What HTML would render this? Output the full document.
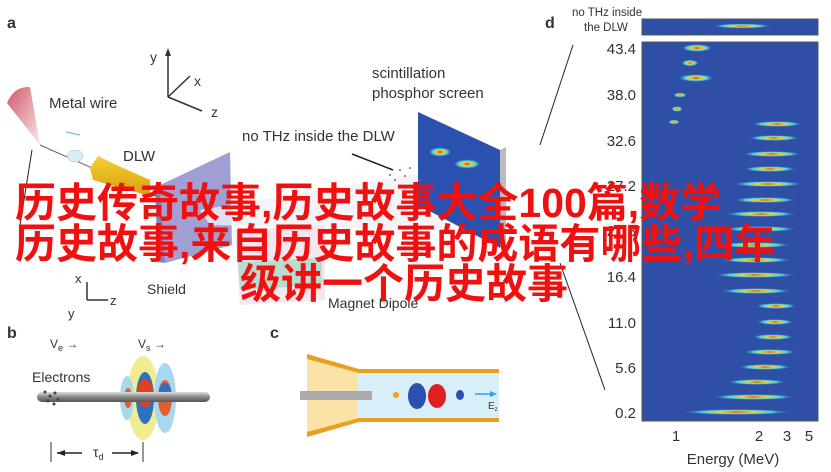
<!DOCTYPE html>
<html><head><meta charset="utf-8"><style>
html,body{margin:0;padding:0;background:#fff;width:831px;height:472px;overflow:hidden}
svg{display:block}
.t{font-family:"Liberation Sans",sans-serif;fill:#333}
.cn{font-family:"Liberation Sans","Noto Sans CJK SC",sans-serif;fill:#f01010;font-size:41px;font-weight:bold}
</style></head><body>
<svg width="831" height="472" viewBox="0 0 831 472" xmlns="http://www.w3.org/2000/svg">
<defs>
<radialGradient id="s" cx="0.5" cy="0.5" r="0.5">
<stop offset="0" stop-color="#d42020"/><stop offset="0.3" stop-color="#f0d030"/>
<stop offset="0.65" stop-color="#50d0e0"/><stop offset="1" stop-color="#3050a8" stop-opacity="0"/>
</radialGradient>
<linearGradient id="cone" x1="0" y1="0" x2="1" y2="1"><stop offset="0" stop-color="#d05868"/><stop offset="1" stop-color="#fbe8ea"/></linearGradient>
<linearGradient id="rod" x1="0" y1="0" x2="0" y2="1"><stop offset="0" stop-color="#ddd"/><stop offset="0.5" stop-color="#888"/><stop offset="1" stop-color="#555"/></linearGradient>
<linearGradient id="horn" x1="0" y1="0" x2="0" y2="1"><stop offset="0" stop-color="#f5d030"/><stop offset="1" stop-color="#d8a010"/></linearGradient>
</defs>
<!-- panel a -->
<text x="7" y="28" class="t" font-size="16" font-weight="bold" fill="#222">a</text>
<path d="M7,103 Q14,86 30,87 L40,145 Z" fill="url(#cone)"/>
<text x="49" y="108" class="t" font-size="15">Metal wire</text>
<line x1="40" y1="145" x2="160" y2="198" stroke="#666" stroke-width="1"/>
<line x1="66" y1="132" x2="80" y2="135" stroke="#8cc8e8" stroke-width="1.5"/>
<ellipse cx="75" cy="156" rx="8" ry="6" fill="#dcecf4" stroke="#9bc" stroke-width="0.5"/>
<path d="M90,168 L98,156 L112,163 L150,180 L150,196 L110,185 L93,180 Z" fill="url(#horn)"/>
<text x="123" y="161" class="t" font-size="15">DLW</text>
<line x1="168" y1="97" x2="168" y2="52" stroke="#333" stroke-width="1.5"/>
<path d="M165,56 L168,48 L171,56Z" fill="#333"/>
<line x1="168" y1="97" x2="190" y2="76" stroke="#333" stroke-width="1.5"/>
<line x1="168" y1="97" x2="202" y2="111" stroke="#333" stroke-width="1.5"/>
<text x="150" y="62" class="t" font-size="14">y</text>
<text x="194" y="86" class="t" font-size="14">x</text>
<text x="211" y="117" class="t" font-size="14">z</text>
<line x1="32" y1="150" x2="20" y2="225" stroke="#222" stroke-width="1"/>
<path d="M160,185 L230,152 L232,245 L165,263 Z" fill="#a0a0d4"/>
<path d="M155,186 L160,185 L165,263 L158,262 Z" fill="#8080bc"/>
<text x="147" y="294" class="t" font-size="14">Shield</text>
<line x1="87" y1="300" x2="87" y2="282" stroke="#333" stroke-width="1.5"/>
<line x1="87" y1="300" x2="108" y2="300" stroke="#333" stroke-width="1.5"/>
<text x="75" y="283" class="t" font-size="13">x</text>
<text x="110" y="305" class="t" font-size="13">z</text>
<text x="68" y="318" class="t" font-size="13">y</text>
<path d="M200,210 L440,170 L445,230 L210,225 Z" fill="#eef2f6" opacity="0.8"/>
<path d="M235,230 L325,225 L325,300 L240,305 Z" fill="#f4e8f0"/>
<path d="M238,262 L322,258 L322,285 L240,290 Z" fill="#b8ddd0"/>
<text x="328" y="308" class="t" font-size="14">Magnet Dipole</text>
<text x="372" y="78" class="t" font-size="15">scintillation</text>
<text x="372" y="98" class="t" font-size="15">phosphor screen</text>
<text x="242" y="141" class="t" font-size="15">no THz inside the DLW</text>
<line x1="352" y1="154" x2="393" y2="170" stroke="#222" stroke-width="1.5"/>
<path d="M418,112 L500,150 L500,248 L418,205 Z" fill="#2a50b0"/>
<path d="M500,150 L506,147 L506,244 L500,248 Z" fill="#bbb"/>
<ellipse cx="440" cy="152" rx="12" ry="5" fill="url(#s)"/>
<ellipse cx="467" cy="164" rx="14" ry="5" fill="url(#s)"/>
<g fill="#e04040"><circle cx="390" cy="175" r="1"/><circle cx="400" cy="170" r="1"/><circle cx="410" cy="168" r="1"/><circle cx="395" cy="180" r="1"/><circle cx="405" cy="176" r="1"/><circle cx="420" cy="180" r="1"/><circle cx="415" cy="188" r="1"/><circle cx="430" cy="185" r="1"/></g>
<line x1="573" y1="45" x2="540" y2="145" stroke="#222" stroke-width="1"/>
<line x1="560" y1="263" x2="605" y2="390" stroke="#222" stroke-width="1"/>
<!-- panel b -->
<text x="7" y="338" class="t" font-size="16" font-weight="bold" fill="#222">b</text>
<text x="50" y="348" class="t" font-size="12" fill="#a8d8f0">V<tspan font-size="9" dy="3">e</tspan><tspan dy="-3"> →</tspan></text>
<text x="138" y="348" class="t" font-size="12" fill="#f0b8c0">V<tspan font-size="9" dy="3">s</tspan><tspan dy="-3"> →</tspan></text>
<text x="32" y="382" class="t" font-size="14">Electrons</text>
<ellipse cx="143" cy="398" rx="16" ry="42" fill="#f0ec90"/>
<ellipse cx="165" cy="398" rx="11" ry="35" fill="#a8d8f0"/>
<ellipse cx="127" cy="398" rx="7" ry="22" fill="#a8d8f0"/>
<ellipse cx="145" cy="398" rx="9" ry="26" fill="#3070c0"/>
<ellipse cx="145" cy="393" rx="8" ry="14" fill="#e04020"/>
<ellipse cx="165" cy="398" rx="7" ry="18" fill="#e06030"/>
<ellipse cx="165" cy="392" rx="6" ry="9" fill="#3070c0"/>
<ellipse cx="128" cy="398" rx="4" ry="10" fill="#e06030"/>
<rect x="37" y="392" width="173" height="10" rx="5" fill="url(#rod)"/>
<g fill="#444"><circle cx="45" cy="392" r="1.5"/><circle cx="50" cy="396" r="1.5"/><circle cx="55" cy="393" r="1.5"/><circle cx="48" cy="401" r="1.5"/><circle cx="54" cy="404" r="1.5"/><circle cx="58" cy="399" r="1.5"/></g>
<line x1="51" y1="442" x2="51" y2="462" stroke="#333"/>
<line x1="143" y1="442" x2="143" y2="462" stroke="#333"/>
<line x1="57" y1="453" x2="82" y2="453" stroke="#222" stroke-width="1.5"/><path d="M57,453 L65,450 L65,456Z" fill="#222"/>
<line x1="112" y1="453" x2="138" y2="453" stroke="#222" stroke-width="1.5"/><path d="M139,453 L131,450 L131,456Z" fill="#222"/>
<text x="93" y="457" class="t" font-size="14">τ<tspan font-size="9" dy="3">d</tspan></text>
<!-- panel c -->
<text x="270" y="338" class="t" font-size="16" font-weight="bold" fill="#222">c</text>
<path d="M307,354 L359,370 L359,421 L307,437 Z" fill="#fbe3a8"/>
<path d="M307,354 L359,369 L359,373 L307,359 Z M307,432 L359,418 L359,422 L307,437Z" fill="#e8a020"/>
<rect x="358" y="373" width="141" height="45" fill="#d8eef8"/>
<rect x="358" y="369" width="141" height="4" fill="#e8a020"/>
<rect x="358" y="418" width="141" height="4" fill="#e8a020"/>
<rect x="300" y="391" width="72" height="9" fill="#aaa"/>
<ellipse cx="417" cy="396" rx="9" ry="13" fill="#2a50b0"/>
<ellipse cx="437" cy="396" rx="9" ry="12" fill="#e02020"/>
<ellipse cx="460" cy="395" rx="4" ry="5" fill="#2a50b0"/>
<circle cx="396" cy="395" r="3" fill="#f0a020"/>
<line x1="475" y1="394" x2="494" y2="394" stroke="#30a0e0" stroke-width="1.5"/><path d="M497,394 L490,391 L490,397Z" fill="#30a0e0"/>
<text x="488" y="409" class="t" font-size="10" fill="#30a0e0">E<tspan font-size="6" dy="2">z</tspan></text>
<!-- panel d -->
<text x="545" y="28" class="t" font-size="16" font-weight="bold" fill="#222">d</text>
<text x="572" y="16" class="t" font-size="11.5">no THz inside</text>
<text x="584" y="31" class="t" font-size="11.5">the DLW</text>
<rect x="642" y="19" width="176" height="16" fill="#2f4ea6" stroke="#555" stroke-width="1"/>
<ellipse cx="742" cy="26" rx="30" ry="2.5" fill="url(#s)"/>
<rect x="642" y="42" width="176" height="379" fill="#2f4ea6" stroke="#555" stroke-width="1"/>
<g fill="url(#s)">
<ellipse cx="697" cy="48" rx="16" ry="4"/>
<ellipse cx="690" cy="63" rx="9" ry="3.5"/>
<ellipse cx="696" cy="78" rx="18" ry="4"/>
<ellipse cx="680" cy="95" rx="7" ry="2.5"/>
<ellipse cx="677" cy="109" rx="6" ry="3"/>
<ellipse cx="674" cy="122" rx="6" ry="2.5"/>
<ellipse cx="777" cy="124" rx="26" ry="3"/>
<ellipse cx="774" cy="138" rx="26" ry="3"/>
<ellipse cx="772" cy="154" rx="30" ry="3"/>
<ellipse cx="770" cy="169" rx="27" ry="3"/>
<ellipse cx="768" cy="184" rx="35" ry="3"/>
<ellipse cx="765" cy="200" rx="32" ry="3"/>
<ellipse cx="761" cy="214" rx="36" ry="3"/>
<ellipse cx="760" cy="229" rx="37" ry="3"/>
<ellipse cx="755" cy="245" rx="37" ry="3"/>
<ellipse cx="756" cy="260" rx="36" ry="3"/>
<ellipse cx="755" cy="275" rx="42" ry="3"/>
<ellipse cx="756" cy="291" rx="36" ry="3"/>
<ellipse cx="776" cy="306" rx="21" ry="3"/>
<ellipse cx="775" cy="322" rx="19" ry="3"/>
<ellipse cx="773" cy="337" rx="21" ry="3"/>
<ellipse cx="770" cy="352" rx="27" ry="3"/>
<ellipse cx="765" cy="367" rx="27" ry="3"/>
<ellipse cx="757" cy="382" rx="30" ry="3"/>
<ellipse cx="754" cy="397" rx="42" ry="3"/>
<ellipse cx="737" cy="412" rx="55" ry="3"/>
</g>
<g class="t" font-size="15" text-anchor="end">
<text x="636" y="54">43.4</text><text x="636" y="100">38.0</text><text x="636" y="146">32.6</text>
<text x="636" y="191">27.2</text><text x="636" y="236">21.8</text><text x="636" y="282">16.4</text>
<text x="636" y="328">11.0</text><text x="636" y="373">5.6</text><text x="636" y="418">0.2</text>
</g>
<g class="t" font-size="15" text-anchor="middle">
<text x="676" y="441">1</text><text x="759" y="441">2</text><text x="787" y="441">3</text><text x="809" y="441">5</text>
<text x="733" y="464">Energy (MeV)</text>
</g>
<!-- overlay text -->
<text x="15" y="217" class="cn">历史传奇故事,历史故事大全100篇,数学</text>
<text x="15" y="258" class="cn">历史故事,来自历史故事的成语有哪些,四年</text>
<text x="240" y="298" class="cn">级讲一个历史故事</text>
</svg>
</body></html>
